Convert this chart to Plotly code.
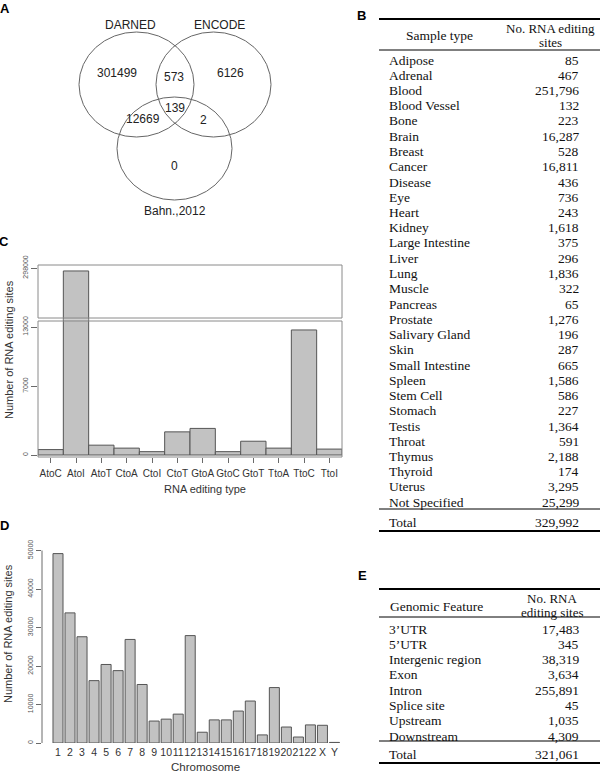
import plotly.graph_objects as go

W, H = 600, 773

def px(x):
    return x / W

def py(y):
    return 1 - y / H

# ---------------- data ----------------
venn_sets = ["DARNED", "ENCODE", "Bahn.,2012"]
venn_regions = ["DARNED only", "DARNED&ENCODE", "ENCODE only", "all three",
                "DARNED&Bahn", "ENCODE&Bahn", "Bahn only"]
venn_counts = [301499, 573, 6126, 139, 12669, 2, 0]

sample_types = ["Adipose", "Adrenal", "Blood", "Blood Vessel", "Bone", "Brain", "Breast",
                "Cancer", "Disease", "Eye", "Heart", "Kidney", "Large Intestine", "Liver",
                "Lung", "Muscle", "Pancreas", "Prostate", "Salivary Gland", "Skin",
                "Small Intestine", "Spleen", "Stem Cell", "Stomach", "Testis", "Throat",
                "Thymus", "Thyroid", "Uterus", "Not Specified"]
sample_sites = [85, 467, 251796, 132, 223, 16287, 528, 16811, 436, 736, 243, 1618, 375,
                296, 1836, 322, 65, 1276, 196, 287, 665, 1586, 586, 227, 1364, 591,
                2188, 174, 3295, 25299]
sample_total = 329992

edit_types = ["AtoC", "AtoI", "AtoT", "CtoA", "CtoI", "CtoT", "GtoA", "GtoC", "GtoT",
              "TtoA", "TtoC", "TtoI"]
edit_counts = [550, 297700, 1000, 700, 340, 2350, 2700, 340, 1400, 700, 12700, 600]
edit_ticks_low = [0, 7000, 13000]
edit_ticks_high = [298000]

chromosomes = [str(i) for i in range(1, 23)] + ["X", "Y"]
chrom_counts = [49200, 33800, 27600, 16200, 20400, 18800, 26900, 15200, 5700, 6200, 7500,
                27900, 2800, 6000, 6000, 8300, 10900, 2100, 14400, 4150, 1550, 4700,
                4600, 150]
chrom_ticks = [0, 10000, 20000, 30000, 40000, 50000]

features = ["3\u2019UTR", "5\u2019UTR", "Intergenic region", "Exon", "Intron",
            "Splice site", "Upstream", "Downstream"]
feature_sites = [17483, 345, 38319, 3634, 255891, 45, 1035, 4309]
feature_total = 321061

# ---------------- styling ----------------
SANS = "Liberation Sans, Arial, sans-serif"
SERIF = "Liberation Serif, Times New Roman, serif"
BAR_FILL = "#c2c2c2"
BAR_LINE = "#555555"
AXC = "#6a6a6a"
TXT = "#333333"
TAB = "#111111"

fig = go.Figure()

fig.add_trace(go.Bar(x=edit_types, y=edit_counts, xaxis="x", yaxis="y", width=1,
                     marker=dict(color=BAR_FILL, line=dict(color=BAR_LINE, width=1))))
fig.add_trace(go.Bar(x=edit_types, y=edit_counts, xaxis="x", yaxis="y2", width=1,
                     marker=dict(color=BAR_FILL, line=dict(color=BAR_LINE, width=1))))
fig.add_trace(go.Bar(x=chromosomes, y=chrom_counts, xaxis="x3", yaxis="y3", width=0.833,
                     marker=dict(color=BAR_FILL, line=dict(color=BAR_LINE, width=1))))

ann = []
shapes = []

def text(x, y, s, size=12, family=SANS, color=TXT, xanchor="center", angle=0, bold=False):
    if bold:
        s = "<b>" + s + "</b>"
    ann.append(dict(x=px(x), y=py(y), xref="paper", yref="paper", text=s, showarrow=False,
                    xanchor=xanchor, yanchor="middle", textangle=angle,
                    font=dict(size=size, family=family, color=color)))

def hline(x0, x1, y, width=1, color="#000"):
    shapes.append(dict(type="line", xref="paper", yref="paper", x0=px(x0), x1=px(x1),
                       y0=py(y), y1=py(y), line=dict(color=color, width=width)))

for letter, (lx, ly) in zip("ABCDE", [(5, 8), (361, 15), (4, 242), (4, 525), (362, 575)]):
    text(lx, ly, letter, size=13, color="#000", bold=True)

# ---------------- Panel A: Venn ----------------
circles = [(79, 32, 194, 137), (156, 32, 271, 137), (117, 97, 232, 200)]
for (x0, y0, x1, y1) in circles:
    shapes.append(dict(type="circle", xref="paper", yref="paper", x0=px(x0), x1=px(x1),
                       y0=py(y1), y1=py(y0), line=dict(color="#666666", width=1)))
set_pos = [(130, 25), (220, 25), (175, 211)]
for name, (x, y) in zip(venn_sets, set_pos):
    text(x, y, name, size=12, color="#222")
count_pos = [(117, 73), (174, 77), (230, 73), (175, 108), (143, 119), (203, 120), (174, 166)]
for c, (x, y) in zip(venn_counts, count_pos):
    text(x, y, str(c), size=12, color="#222")

# ---------------- Panel B: table ----------------
TL, TR = 379, 600
NAME_X, VAL_X = 387, 581
FS = 13.5
hline(TL, TR, 19, width=2)
text(440, 36, "Sample type", size=FS, family=SERIF, color=TAB)
text(550, 28.5, "No. RNA editing", size=13, family=SERIF, color=TAB)
text(550, 42.5, "sites", size=13, family=SERIF, color=TAB)
hline(TL, TR, 50, width=1)
row_h = 15.25
for i, (n, v) in enumerate(zip(sample_types, sample_sites)):
    yy = 60 + i * row_h
    text(NAME_X, yy, n, size=FS, family=SERIF, color=TAB, xanchor="left")
    text(VAL_X, yy, f"{v:,}", size=FS, family=SERIF, color=TAB, xanchor="right")
hline(TL, TR, 509, width=1)
text(NAME_X, 522, "Total", size=FS, family=SERIF, color=TAB, xanchor="left")
text(VAL_X, 522, f"{sample_total:,}", size=FS, family=SERIF, color=TAB, xanchor="right")
hline(TL, TR, 531, width=2)

# ---------------- Panel E: table ----------------
hline(TL, TR, 589, width=2)
text(436, 606, "Genomic Feature", size=FS, family=SERIF, color=TAB)
text(552, 598, "No. RNA", size=13, family=SERIF, color=TAB)
text(552, 612, "editing sites", size=13, family=SERIF, color=TAB)
hline(TL, TR, 617, width=1)
for i, (n, v) in enumerate(zip(features, feature_sites)):
    yy = 629 + i * 15.3
    text(NAME_X, yy, n, size=FS, family=SERIF, color=TAB, xanchor="left")
    text(VAL_X, yy, f"{v:,}", size=FS, family=SERIF, color=TAB, xanchor="right")
hline(TL, TR, 741, width=1)
text(NAME_X, 754, "Total", size=FS, family=SERIF, color=TAB, xanchor="left")
text(VAL_X, 754, f"{feature_total:,}", size=FS, family=SERIF, color=TAB, xanchor="right")
hline(TL, TR, 763, width=2)

# ---------------- Panel C boxes / titles ----------------
for (y0, y1) in [(265, 318), (321, 457)]:
    shapes.append(dict(type="rect", xref="paper", yref="paper", x0=px(38), x1=px(342),
                       y0=py(y1), y1=py(y0), line=dict(color="#8a8a8a", width=1),
                       fillcolor="rgba(0,0,0,0)", layer="above"))
text(9, 350, "Number of RNA editing sites", size=11, angle=-90)
text(205, 489, "RNA editing type", size=11)

# ---------------- Panel D titles / axis line ----------------
shapes.append(dict(type="line", xref="paper", yref="y3", x0=px(42), x1=px(42),
                   y0=chrom_ticks[0], y1=chrom_ticks[-1], line=dict(color=AXC, width=1)))
text(8, 634, "Number of RNA editing sites", size=11, angle=-90)
text(205, 767, "Chromosome", size=11.5)

tick_font = dict(size=10, family=SANS, color=TXT)
ytick_font = dict(size=7, family=SANS, color="#555")

fig.update_layout(
    width=W, height=H, margin=dict(l=0, r=0, t=0, b=0, pad=0, autoexpand=False),
    paper_bgcolor="white", plot_bgcolor="white", showlegend=False,
    annotations=ann, shapes=shapes,
    xaxis=dict(domain=[px(38), px(342)], anchor="y", type="category",
               categoryorder="array", categoryarray=edit_types, automargin=False,
               range=[-0.5, 11.5], ticks="outside", ticklen=5, tickcolor=AXC,
               showline=False, showgrid=False, zeroline=False, tickfont=tick_font,
               tickmode="array", tickvals=edit_types, tickangle=0, ticklabelstandoff=2),
    yaxis=dict(domain=[py(457), py(319.5)], anchor="x", range=[-203, 13762],
               automargin=False, tickmode="array", tickvals=edit_ticks_low,
               ticktext=[str(v) for v in edit_ticks_low], ticks="outside", ticklen=6,
               tickcolor=AXC, tickangle=-90, tickfont=ytick_font, showgrid=False,
               zeroline=False, showline=False),
    yaxis2=dict(domain=[py(319.5), py(265)], anchor="x", range=[292770, 298305],
                automargin=False, tickmode="array", tickvals=edit_ticks_high,
                ticktext=[str(v) for v in edit_ticks_high], ticks="outside", ticklen=6,
                tickcolor=AXC, tickangle=-90, tickfont=ytick_font, showgrid=False,
                zeroline=False, showline=False),
    xaxis3=dict(domain=[px(42), px(352)], anchor="y3", type="category",
                categoryorder="array", categoryarray=chromosomes, automargin=False,
                range=[-1.331, 24.46], ticks="", showline=False, showgrid=False,
                zeroline=False, tickfont=dict(size=10.5, family=SANS, color=TXT),
                tickmode="array", tickvals=chromosomes, tickangle=0,
                ticklabelstandoff=1),
    yaxis3=dict(domain=[py(743), py(545.9)], anchor="x3", range=[0, 51200],
                automargin=False, tickmode="array", tickvals=chrom_ticks,
                ticktext=[str(v) for v in chrom_ticks],
                ticks="outside", ticklen=5, tickcolor=AXC, tickangle=-90,
                tickfont=ytick_font, showgrid=False, zeroline=False, showline=False),
)

fig.write_html("out.html", config={"displayModeBar": False},
               post_script="document.body.style.margin='0';document.body.style.padding='0';")
